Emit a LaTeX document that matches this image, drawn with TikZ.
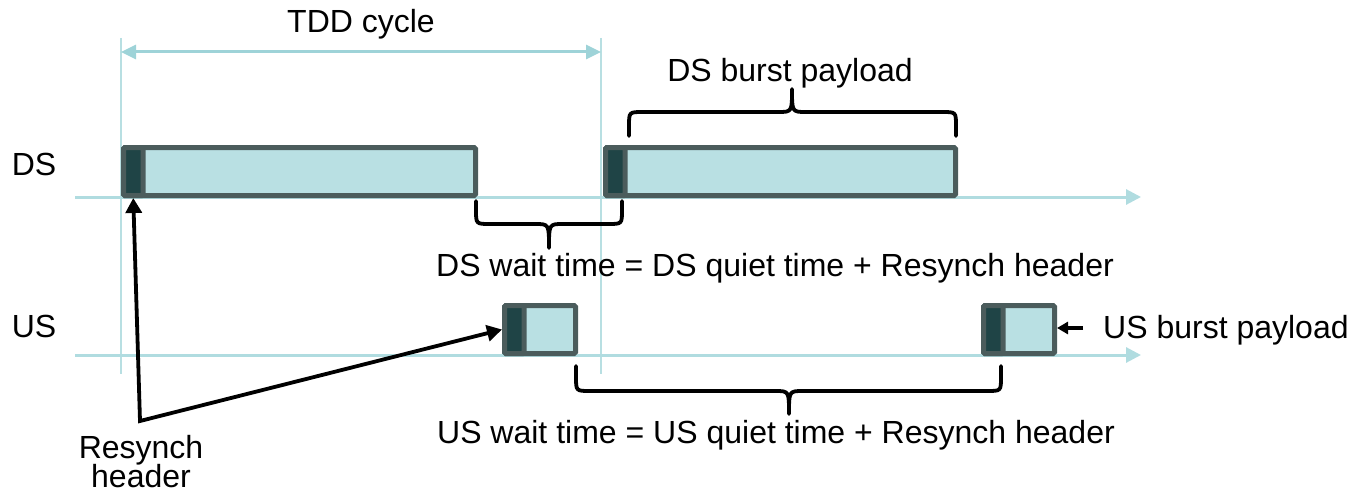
\documentclass[tikz,border=0pt]{standalone}
\usepackage{fontspec}
\setmainfont{Liberation Sans}
\usetikzlibrary{arrows.meta}
\definecolor{framegray}{HTML}{4B5C5C}
\definecolor{payload}{HTML}{B9E0E3}
\definecolor{hdrdark}{HTML}{1F4446}
\definecolor{axisblue}{HTML}{B0DCE0}
\definecolor{guide}{HTML}{B8DFE2}
\definecolor{spanblue}{HTML}{9ED3D8}

\begin{document}
\begin{tikzpicture}[x=1pt,y=-1pt,
  lbl/.style={font=\fontsize{32}{36}\selectfont, inner sep=0pt, anchor=base},
  burst/.style={draw=framegray, fill=payload, line width=5pt, rounded corners=1.5pt,
    inner sep=0pt, minimum height=48pt, anchor=west},
  hdr/.style={draw=framegray, fill=hdrdark, line width=5pt, rounded corners=1.5pt,
    inner sep=0pt, minimum height=48pt, minimum width=19.5pt, anchor=west},
  timeaxis/.style={draw=axisblue, line width=3pt, -{Triangle[length=15pt,width=15pt]}},
  guideline/.style={draw=guide, line width=2pt},
  span/.style={draw=spanblue, line width=3pt,
    {Triangle[length=15pt,width=14pt]}-{Triangle[length=15pt,width=14pt]}},
  curly/.style={draw=black, line width=3.8pt, line cap=round, line join=round},
  pointer/.style={draw=black, line width=3.8pt, line join=miter,
    {Triangle[length=15pt,width=16pt]}-{Triangle[length=15pt,width=16pt]}},
  smallpointer/.style={draw=black, line width=3.8pt, -{Triangle[length=11pt,width=12pt]}},
]
\useasboundingbox (0,0) rectangle (1351,492);

% cycle guides and time axes
\coordinate (gA1) at (121,38);  \coordinate (gA2) at (121,374);
\coordinate (gB1) at (601,38);  \coordinate (gB2) at (601,374);
\draw[guideline] (gA1) -- (gA2);
\draw[guideline] (gB1) -- (gB2);
\coordinate (dsStart) at (75,197); \coordinate (dsEnd) at (1141,197);
\coordinate (usStart) at (75,355); \coordinate (usEnd) at (1141,355);
\draw[timeaxis] (dsStart) -- (dsEnd);
\draw[timeaxis] (usStart) -- (usEnd);

% TDD cycle span
\coordinate (spanL) at (121,52); \coordinate (spanR) at (601,52);
\draw[span] (spanL) -- (spanR);
\node[lbl] (tdd) at (361,33) {TDD cycle};

% channel labels
\node[lbl] (dslbl) at (34,175) {DS};
\node[lbl] (uslbl) at (34,337) {US};

% downstream bursts
\node[burst, minimum width=352pt] (dsA) at (121,171.5) {};
\node[hdr] (dsA-h) at (121,171.5) {};
\node[burst, minimum width=350pt] (dsB) at (603,171.5) {};
\node[hdr] (dsB-h) at (603,171.5) {};

% upstream bursts
\node[burst, minimum width=71pt] (usA) at (502,329.5) {};
\node[hdr] (usA-h) at (502,329.5) {};
\node[burst, minimum width=71pt] (usB) at (981,329.5) {};
\node[hdr] (usB-h) at (981,329.5) {};

% braces
\draw[curly] (629,136) -- (629,126) .. controls (629,112) .. (643,112) -- (778,112)
  .. controls (792,112) .. (792,89) .. controls (792,112) .. (806,112) -- (942,112)
  .. controls (956,112) .. (956,126) -- (956,136);
\node[lbl] (dspay) at (790,82) {DS burst payload};

\draw[curly] (476,201) -- (476,210) .. controls (476,224) .. (490,224) -- (535,224)
  .. controls (549,224) .. (549,248) .. controls (549,224) .. (563,224) -- (608,224)
  .. controls (622,224) .. (622,210) -- (622,201);
\node[lbl] (dswait) at (775,276) {DS wait time = DS quiet time + Resynch header};

\draw[curly] (576,366) -- (576,377) .. controls (576,391) .. (590,391) -- (775,391)
  .. controls (789,391) .. (789,414) .. controls (789,391) .. (803,391) -- (987,391)
  .. controls (1001,391) .. (1001,377) -- (1001,366);
\node[lbl] (uswait) at (776,443) {US wait time = US quiet time + Resynch header};

% US burst payload pointer
\node[lbl, anchor=base west] (uspay) at (1103,338) {US burst payload};
\coordinate (uspayTail) at (1083,328);
\draw[smallpointer] (uspayTail) -- (usB.east |- uspayTail);

% resynch header pointers
\coordinate (fork) at (140,421);
\draw[pointer] (dsA-h.south) -- (fork) -- (usA-h.west);
\node[lbl] (rs1) at (141,458) {Resynch};
\node[lbl] (rs2) at (141,487) {header};
\end{tikzpicture}
\end{document}
